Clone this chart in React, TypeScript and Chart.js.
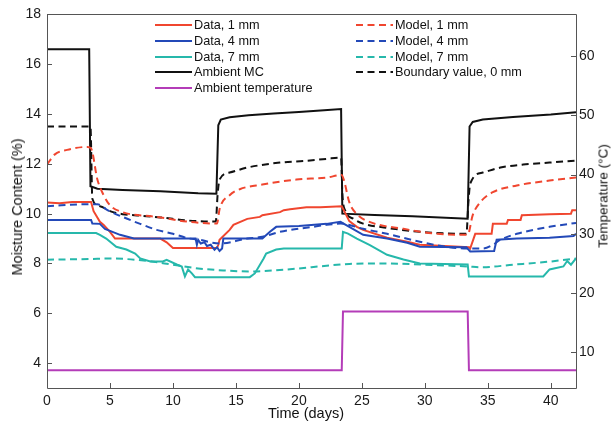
import React, { useEffect, useRef } from "react";
import { Chart, registerables } from "chart.js";

Chart.register(...registerables);

// ---- tick values ----
const xTicks = [0, 5, 10, 15, 20, 25, 30, 35, 40];
const mcTicks = [4, 6, 8, 10, 12, 14, 16, 18];
const tempTicks = [10, 20, 30, 40, 50, 60];

// ---- series (time in days, moisture content in %) ----
const data1T = [0, 1, 2, 3.5, 3.7, 4.2, 4.5, 5, 5.4, 9.0, 9.5, 10.0, 13.5, 13.6, 13.7, 14.5, 14.8, 15.9, 16.9, 17.1, 18.5, 18.8, 19.3, 20.6, 21.7, 23.4, 23.6, 24, 24.6, 25.1, 27, 28.6, 29.6, 33.5, 33.6, 34.0, 35.3, 35.4, 36.5, 36.6, 37.6, 37.7, 39.9, 41.6, 41.7, 42];
const data1V = [10.45, 10.42, 10.47, 10.47, 10.1, 9.67, 9.55, 9.27, 9.0, 9.0, 8.85, 8.62, 8.62, 8.75, 8.95, 9.35, 9.55, 9.79, 9.87, 9.94, 10.06, 10.14, 10.18, 10.26, 10.26, 10.3, 10.1, 9.7, 9.47, 9.35, 9.03, 8.87, 8.75, 8.65, 8.6, 9.19, 9.19, 9.59, 9.59, 9.75, 9.75, 9.94, 9.98, 10.0, 10.14, 10.14];

const data4T = [0, 3.5, 3.6, 4.2, 4.6, 5.2, 5.8, 6.9, 11.8, 11.9, 12.0, 12.2, 12.5, 12.7, 13.0, 13.3, 13.5, 13.7, 13.9, 14.0, 17.1, 17.7, 18.2, 20, 22.2, 23.3, 24, 25.1, 27, 28.6, 29.6, 33.3, 33.6, 35.5, 35.7, 37.3, 39.9, 41.8, 42];
const data4V = [9.75, 9.75, 9.6, 9.59, 9.39, 9.27, 9.15, 9.0, 9.0, 8.75, 8.95, 8.8, 8.85, 8.7, 8.75, 8.55, 8.65, 8.5, 8.6, 9.0, 9.0, 9.27, 9.47, 9.5, 9.59, 9.67, 9.47, 9.15, 9.0, 8.83, 8.67, 8.65, 8.48, 8.5, 8.95, 9.0, 9.03, 9.1, 9.19];

const data7T = [0, 3.9, 4.2, 4.7, 5.5, 6.3, 7.0, 7.4, 8.2, 9.2, 9.5, 10.3, 10.7, 10.95, 11.2, 11.5, 11.75, 16.1, 16.5, 17.2, 17.4, 18.2, 18.8, 23.4, 23.5, 23.9, 24.6, 25.6, 27, 28.3, 29.6, 33.4, 33.5, 39.4, 39.9, 41, 41.3, 41.6, 42];
const data7V = [9.22, 9.22, 9.15, 9.0, 8.67, 8.56, 8.4, 8.2, 8.08, 8.08, 8.15, 7.96, 7.88, 7.48, 7.76, 7.6, 7.45, 7.45, 7.6, 8.2, 8.4, 8.56, 8.6, 8.6, 9.27, 9.2, 9.0, 8.75, 8.35, 8.16, 8.0, 7.96, 7.48, 7.48, 7.76, 7.88, 8.1, 7.95, 8.2];

const ambientMcT = [0, 3.35, 3.45, 4, 6, 9, 12, 13.45, 13.6, 13.8, 14.5, 16, 18, 20, 22, 23.35, 23.45, 26, 29, 33.4, 33.55, 33.8, 34.6, 37, 40, 42];
const ambientMcV = [16.6, 16.6, 11.1, 11.0, 10.95, 10.9, 10.82, 10.8, 13.55, 13.78, 13.87, 13.95, 14.02, 14.08, 14.15, 14.2, 10.0, 9.95, 9.9, 9.8, 13.5, 13.68, 13.78, 13.88, 13.98, 14.07];

// ambient temperature in °C (right axis)
const ambientTempT = [0, 23.4, 23.5, 33.4, 33.5, 42];
const ambientTempV = [7, 7, 16.9, 16.9, 7, 7];

const model1T = [0, 0.6, 1.6, 3.2, 3.5, 4, 4.5, 5, 6, 8.7, 11.3, 13.5, 13.7, 14.5, 15.3, 17.1, 19.8, 22.2, 23.4, 23.6, 24, 24.6, 25.6, 28.3, 31, 33.4, 33.8, 34.4, 35.4, 37.3, 39.9, 42];
const model1V = [11.97, 12.37, 12.56, 12.68, 12.62, 11.37, 10.74, 10.34, 10.06, 9.87, 9.67, 9.6, 10.18, 10.74, 10.98, 11.17, 11.37, 11.45, 11.55, 11.3, 10.46, 9.98, 9.67, 9.39, 9.19, 9.15, 9.94, 10.46, 10.86, 11.13, 11.33, 11.45];

const model4T = [0, 3.4, 4, 4.8, 6, 7.4, 8.7, 10, 11.3, 12.1, 13.7, 15.9, 17.1, 18.5, 21.1, 22.2, 23.3, 25.1, 27, 29.6, 31.7, 33.3, 34.6, 35.4, 36, 37.3, 39.9, 42];
const model4V = [10.3, 10.38, 10.38, 10.14, 9.87, 9.59, 9.35, 9.19, 9.0, 8.95, 8.8, 9.0, 9.07, 9.27, 9.47, 9.55, 9.6, 9.39, 9.19, 8.87, 8.67, 8.6, 8.6, 8.75, 8.95, 9.19, 9.47, 9.63];

const model7T = [0, 3.4, 5, 8, 10, 12, 14, 16, 18, 20, 22, 24, 27, 30, 33.4, 34.5, 37, 40, 42];
const model7V = [8.15, 8.18, 8.2, 8.1, 7.95, 7.8, 7.72, 7.68, 7.72, 7.8, 7.9, 7.98, 8.0, 7.95, 7.88, 7.85, 7.95, 8.08, 8.2];

const boundaryT = [0, 3.45, 3.6, 4.2, 5, 6, 7.4, 9, 11.3, 13.4, 13.55, 13.7, 14.5, 15.9, 18.5, 20.5, 22.2, 23.35, 23.45, 23.7, 24.3, 25.1, 27, 29.6, 33.3, 33.45, 33.6, 34.6, 36, 37.8, 39.9, 42];
const boundaryV = [13.5, 13.5, 10.6, 10.3, 10.1, 9.98, 9.92, 9.85, 9.72, 9.68, 10.8, 11.37, 11.65, 11.85, 12.05, 12.12, 12.2, 12.25, 10.8, 10.1, 9.8, 9.6, 9.43, 9.27, 9.19, 10.4, 11.2, 11.65, 11.85, 11.97, 12.05, 12.13];

const RED = "#f0462f";
const BLUE = "#2349b8";
const TEAL = "#26b8ab";
const BLACK = "#111111";
const MAGENTA = "#b43cb8";
const FONT = "'Liberation Sans', Arial, Helvetica, sans-serif";

const pts = (t: number[], v: number[]) => t.map((x, i) => ({ x, y: v[i] }));

const legendLeft = [
  { label: "Data, 1 mm", color: RED, dashed: false },
  { label: "Data, 4 mm", color: BLUE, dashed: false },
  { label: "Data, 7 mm", color: TEAL, dashed: false },
  { label: "Ambient MC", color: BLACK, dashed: false },
  { label: "Ambient temperature", color: MAGENTA, dashed: false },
];
const legendRight = [
  { label: "Model, 1 mm", color: RED, dashed: true },
  { label: "Model, 4 mm", color: BLUE, dashed: true },
  { label: "Model, 7 mm", color: TEAL, dashed: true },
  { label: "Boundary value, 0 mm", color: BLACK, dashed: true },
];

const framePlugin = {
  id: "frameTicks",
  afterDraw(chart: any) {
    const { ctx, chartArea } = chart;
    const { left, right, top, bottom } = chartArea;
    ctx.save();
    ctx.strokeStyle = "#555";
    ctx.lineWidth = 1;
    ctx.beginPath();
    ctx.rect(Math.round(left) + 0.5, Math.round(top) + 0.5, Math.round(right - left), Math.round(bottom - top));
    ctx.stroke();
    const len = 5;
    ctx.beginPath();
    const xs = chart.scales.x;
    xs.ticks.forEach((tk: any) => {
      const px = Math.round(xs.getPixelForValue(tk.value)) + 0.5;
      ctx.moveTo(px, bottom);
      ctx.lineTo(px, bottom - len);
    });
    const ys = chart.scales.y;
    ys.ticks.forEach((tk: any) => {
      const py = Math.round(ys.getPixelForValue(tk.value)) + 0.5;
      ctx.moveTo(left, py);
      ctx.lineTo(left + len, py);
    });
    const y2 = chart.scales.y2;
    y2.ticks.forEach((tk: any) => {
      const py = Math.round(y2.getPixelForValue(tk.value)) + 0.5;
      ctx.moveTo(right, py);
      ctx.lineTo(right - len, py);
    });
    ctx.stroke();
    ctx.restore();
  },
};

function LegendRow({ item, x, y }: { item: any; x: number; y: number }) {
  return (
    <div style={{ position: "absolute", left: x, top: y - 9, height: 18, display: "flex", alignItems: "center", whiteSpace: "nowrap" }}>
      <svg width={37} height={6} style={{ marginRight: 2 }}>
        <line x1={0} y1={3} x2={37} y2={3} stroke={item.color} strokeWidth={2} strokeDasharray={item.dashed ? "7 4.5" : undefined} />
      </svg>
      <span style={{ font: `12.7px ${FONT}`, color: "#111" }}>{item.label}</span>
    </div>
  );
}

export default function App() {
  const canvasRef = useRef<HTMLCanvasElement | null>(null);

  useEffect(() => {
    const canvas = canvasRef.current;
    if (!canvas) return;
    const line = (label: string, t: number[], v: number[], color: string, dashed: boolean, axis = "y", smooth = false) => ({
      label,
      data: pts(t, v),
      borderColor: color,
      backgroundColor: color,
      borderWidth: 2,
      borderDash: dashed ? [7, 4.5] : [],
      pointRadius: 0,
      fill: false,
      tension: 0,
      cubicInterpolationMode: smooth ? "monotone" : "default",
      yAxisID: axis,
    });
    const tickFont = { family: FONT, size: 14 };
    const chart = new Chart(canvas, {
      type: "line",
      data: {
        datasets: [
          line("Model, 7 mm", model7T, model7V, TEAL, true, "y", true),
          line("Data, 7 mm", data7T, data7V, TEAL, false),
          line("Model, 4 mm", model4T, model4V, BLUE, true, "y", true),
          line("Data, 4 mm", data4T, data4V, BLUE, false),
          line("Model, 1 mm", model1T, model1V, RED, true, "y", true),
          line("Data, 1 mm", data1T, data1V, RED, false),
          line("Boundary value, 0 mm", boundaryT, boundaryV, BLACK, true, "y", true),
          line("Ambient MC", ambientMcT, ambientMcV, BLACK, false),
          line("Ambient temperature", ambientTempT, ambientTempV, MAGENTA, false, "y2"),
        ] as any,
      },
      options: {
        responsive: false,
        animation: false,
        layout: { padding: { top: 10, left: 0, right: 0, bottom: 0 } },
        plugins: { legend: { display: false }, tooltip: { enabled: false }, title: { display: false } },
        scales: {
          x: {
            type: "linear",
            min: 0,
            max: 42,
            grid: { display: false, drawTicks: false },
            border: { display: false },
            ticks: { font: tickFont, color: "#1a1a1a", padding: 5, maxRotation: 0 },
            afterBuildTicks: (s: any) => { s.ticks = xTicks.map((v) => ({ value: v })); },
            afterFit: (s: any) => { s.height = 35; },
          },
          y: {
            type: "linear",
            position: "left",
            min: 3,
            max: 18,
            grid: { display: false, drawTicks: false },
            border: { display: false },
            ticks: { font: tickFont, color: "#1a1a1a", padding: 6 },
            afterBuildTicks: (s: any) => { s.ticks = mcTicks.map((v) => ({ value: v })); },
            afterFit: (s: any) => { s.width = 47; },
          },
          y2: {
            type: "linear",
            position: "right",
            min: 4,
            max: 67,
            grid: { display: false, drawTicks: false },
            border: { display: false },
            ticks: { font: tickFont, color: "#1a1a1a", padding: 3 },
            afterBuildTicks: (s: any) => { s.ticks = tempTicks.map((v) => ({ value: v })); },
            afterFit: (s: any) => { s.width = 35; },
          },
        },
      } as any,
      plugins: [framePlugin],
    });
    return () => chart.destroy();
  }, []);

  return (
    <div style={{ position: "fixed", left: 0, top: 0, width: 611, height: 423, background: "#fff", overflow: "hidden" }}>
      <canvas ref={canvasRef} width={611} height={423} style={{ width: 611, height: 423, display: "block" }} />
      <div style={{ position: "absolute", left: 17, top: 207, transform: "translate(-50%, -50%) rotate(-90deg)", font: `14.5px ${FONT}`, color: "#111", whiteSpace: "nowrap" }}>
        Moisture Content (%)
      </div>
      <div style={{ position: "absolute", left: 603, top: 196, transform: "translate(-50%, -50%) rotate(-90deg)", font: `13.5px ${FONT}`, color: "#111", whiteSpace: "nowrap" }}>
        Temperature (°C)
      </div>
      <div style={{ position: "absolute", left: 306, top: 413, transform: "translate(-50%, -50%)", font: `14.5px ${FONT}`, color: "#111", whiteSpace: "nowrap" }}>
        Time (days)
      </div>
      {legendLeft.map((it, i) => (
        <LegendRow key={it.label} item={it} x={155} y={25 + i * 15.8} />
      ))}
      {legendRight.map((it, i) => (
        <LegendRow key={it.label} item={it} x={356} y={25 + i * 15.8} />
      ))}
    </div>
  );
}
